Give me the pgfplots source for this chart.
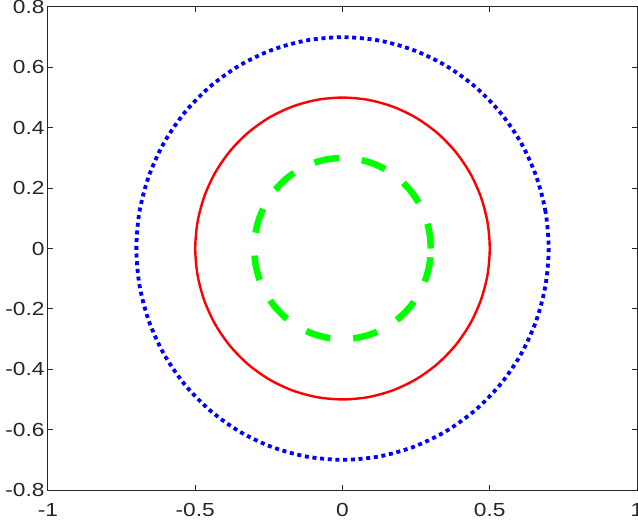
\documentclass[border=0pt]{standalone}
\usepackage{fontspec}
\setmainfont[FakeStretch=1.2]{Liberation Sans}
\usepackage{pgfplots}
\pgfplotsset{compat=1.18}
\usetikzlibrary{calc}

\definecolor{axgray}{RGB}{38,38,38}

\begin{document}
\begin{tikzpicture}
\begin{axis}[
    width=589bp, height=483bp,
    scale only axis,
    xmin=-1, xmax=1,
    ymin=-0.8, ymax=0.8,
    xtick={-1,-0.5,0,0.5,1},
    xticklabels={-1,-0.5,0,0.5,1},
    ytick={-0.8,-0.6,-0.4,-0.2,0,0.2,0.4,0.6,0.8},
    yticklabels={-0.8,-0.6,-0.4,-0.2,0,0.2,0.4,0.6,0.8},
    tick label style={font=\fontsize{19}{22}\selectfont, text=axgray},
    xticklabel style={yshift=-10bp},
    axis line style={draw=axgray, line width=1bp},
    every tick/.style={draw=axgray, line width=1bp},
    major tick length=5bp,
    tick align=inside,
]

% r = 0.7, blue dotted
\addplot[blue, line width=3.8bp, dash pattern=on 4bp off 3.7bp, smooth cycle] coordinates {
 (0.7,0) (0.6894,0.1216) (0.6578,0.2394) (0.6062,0.35) (0.5362,0.45) (0.45,0.5362) (0.35,0.6062) (0.2394,0.6578) (0.1216,0.6894) (0,0.7)
 (-0.1216,0.6894) (-0.2394,0.6578) (-0.35,0.6062) (-0.45,0.5362) (-0.5362,0.45) (-0.6062,0.35) (-0.6578,0.2394) (-0.6894,0.1216) (-0.7,0)
 (-0.6894,-0.1216) (-0.6578,-0.2394) (-0.6062,-0.35) (-0.5362,-0.45) (-0.45,-0.5362) (-0.35,-0.6062) (-0.2394,-0.6578) (-0.1216,-0.6894) (0,-0.7)
 (0.1216,-0.6894) (0.2394,-0.6578) (0.35,-0.6062) (0.45,-0.5362) (0.5362,-0.45) (0.6062,-0.35) (0.6578,-0.2394) (0.6894,-0.1216)
};

% r = 0.5, red solid
\addplot[red, line width=2.4bp, smooth cycle] coordinates {
 (0.5,0) (0.4924,0.0868) (0.4698,0.1710) (0.4330,0.25) (0.3830,0.3214) (0.3214,0.3830) (0.25,0.4330) (0.1710,0.4698) (0.0868,0.4924) (0,0.5)
 (-0.0868,0.4924) (-0.1710,0.4698) (-0.25,0.4330) (-0.3214,0.3830) (-0.3830,0.3214) (-0.4330,0.25) (-0.4698,0.1710) (-0.4924,0.0868) (-0.5,0)
 (-0.4924,-0.0868) (-0.4698,-0.1710) (-0.4330,-0.25) (-0.3830,-0.3214) (-0.3214,-0.3830) (-0.25,-0.4330) (-0.1710,-0.4698) (-0.0868,-0.4924) (0,-0.5)
 (0.0868,-0.4924) (0.1710,-0.4698) (0.25,-0.4330) (0.3214,-0.3830) (0.3830,-0.3214) (0.4330,-0.25) (0.4698,-0.1710) (0.4924,-0.0868)
};

% r = 0.3, green dashed (open path, starts at angle 0 with a dash)
\addplot[color={rgb,1:red,0;green,1;blue,0}, line width=6.5bp, dash pattern=on 25bp off 23bp, smooth] coordinates {
 (0.3,0) (0.2954,0.0521) (0.2819,0.1026) (0.2598,0.15) (0.2298,0.1928) (0.1928,0.2298) (0.15,0.2598) (0.1026,0.2819) (0.0521,0.2954) (0,0.3)
 (-0.0521,0.2954) (-0.1026,0.2819) (-0.15,0.2598) (-0.1928,0.2298) (-0.2298,0.1928) (-0.2598,0.15) (-0.2819,0.1026) (-0.2954,0.0521) (-0.3,0)
 (-0.2954,-0.0521) (-0.2819,-0.1026) (-0.2598,-0.15) (-0.2298,-0.1928) (-0.1928,-0.2298) (-0.15,-0.2598) (-0.1026,-0.2819) (-0.0521,-0.2954) (0,-0.3)
 (0.0521,-0.2954) (0.1026,-0.2819) (0.15,-0.2598) (0.1928,-0.2298) (0.2298,-0.1928) (0.2598,-0.15) (0.2819,-0.1026) (0.2954,-0.0521) (0.3,0)
};

\end{axis}
\pgfresetboundingbox
\path[use as bounding box] ($(current axis.south west)+(-48bp,-32bp)$) rectangle ($(current axis.north east)+(1bp,7bp)$);
\end{tikzpicture}
\end{document}
